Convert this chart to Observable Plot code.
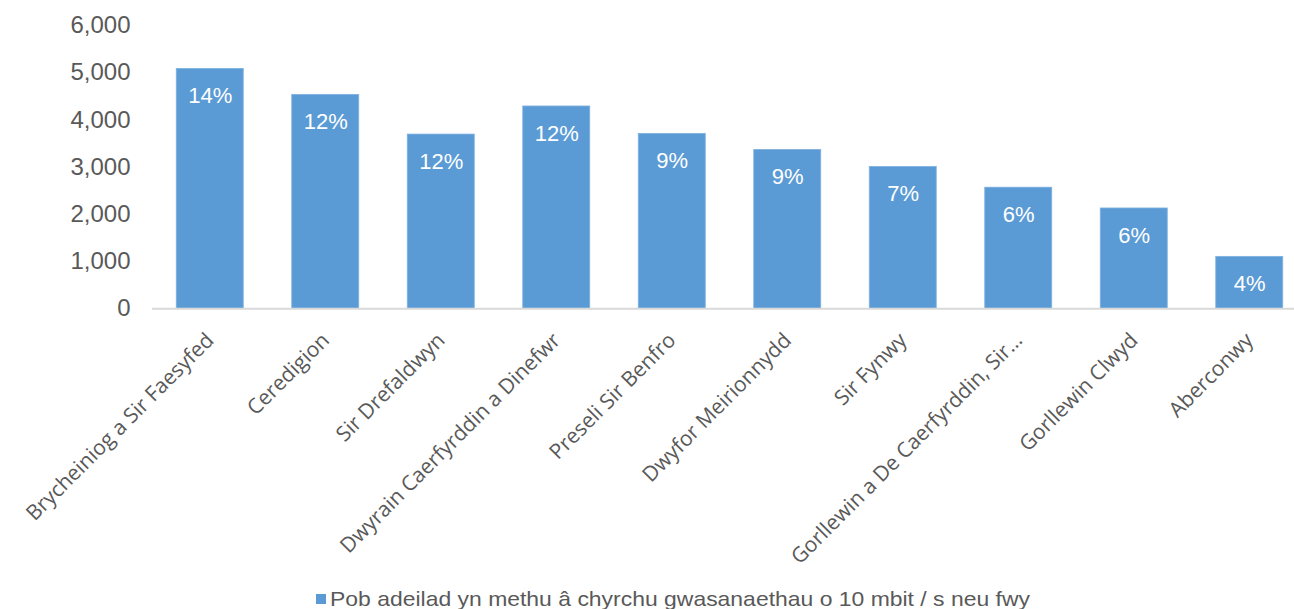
<!DOCTYPE html>
<html>
<head>
<meta charset="utf-8">
<script src="https://cdn.jsdelivr.net/npm/d3@7"></script>
<script src="https://cdn.jsdelivr.net/npm/@observablehq/plot@0.6"></script>
<style>
  html, body { margin: 0; padding: 0; background: #fff; }
  #chart svg { display: block; }
  #legend { display: block; }
</style>
</head>
<body>
<div id="chart"></div>
<svg id="legend" width="1294" height="26"></svg>
<script>
const categories = [
  "Brycheiniog a Sir Faesyfed",
  "Ceredigion",
  "Sir Drefaldwyn",
  "Dwyrain Caerfyrddin a Dinefwr",
  "Preseli Sir Benfro",
  "Dwyfor Meirionnydd",
  "Sir Fynwy",
  "Gorllewin a De Caerfyrddin, Sir…",
  "Gorllewin Clwyd",
  "Aberconwy"
];
const premises = [5080, 4530, 3690, 4285, 3705, 3365, 3005, 2565, 2125, 1100];
const shares = ["14%", "12%", "12%", "12%", "9%", "9%", "7%", "6%", "6%", "4%"];
const yTicks = [0, 1000, 2000, 3000, 4000, 5000, 6000];
const seriesName = "Pob adeilad yn methu â chyrchu gwasanaethau o 10 mbit / s neu fwy";

const data = categories.map((c, i) => ({name: c, value: premises[i], label: shares[i]}));

const barColor = "#5B9BD5";
const textColor = "#595959";

const chart = Plot.plot({
  width: 1294,
  height: 583,
  marginTop: 25,
  marginBottom: 274.7,
  marginLeft: 152,
  marginRight: 0,
  style: {background: "white"},
  x: {domain: categories, range: [152, 1307], round: false, paddingInner: 0.42, paddingOuter: 0.21, align: 0.5},
  y: {domain: [0, 6000]},
  marks: [
    Plot.barY(data, {x: "name", y: "value", fill: barColor, stroke: "#7fb1e0", strokeWidth: 0.8}),
    Plot.ruleY([0], {stroke: "#D9D9D9", strokeWidth: 2}),
    Plot.text(data, {x: "name", y: "value", text: "label", fill: "white", dy: 27,
      fontSize: 22, fontFamily: "Liberation Sans, Arial, sans-serif", lineAnchor: "middle"}),
    Plot.axisY({ticks: yTicks, tickFormat: d3.format(","), tickSize: 0, tickPadding: 22,
      fontSize: 24, fontFamily: "Liberation Sans, Arial, sans-serif", color: textColor, label: null}),
    Plot.axisX({tickSize: 0, tickRotate: -45, tickPadding: 28, fontSize: 21,
      fontFamily: "Open Sans, sans-serif", color: textColor, label: null})
  ]
});
document.getElementById("chart").appendChild(chart);

const legend = d3.select("#legend");
legend.append("rect").attr("x", 316).attr("y", 11).attr("width", 10).attr("height", 10).attr("fill", barColor);
legend.append("text")
  .attr("x", 330).attr("y", 23)
  .attr("font-family", "Liberation Sans, Arial, sans-serif")
  .attr("font-size", 21)
  .attr("fill", textColor)
  .attr("textLength", 700)
  .attr("lengthAdjust", "spacingAndGlyphs")
  .text(seriesName);
</script>
</body>
</html>
